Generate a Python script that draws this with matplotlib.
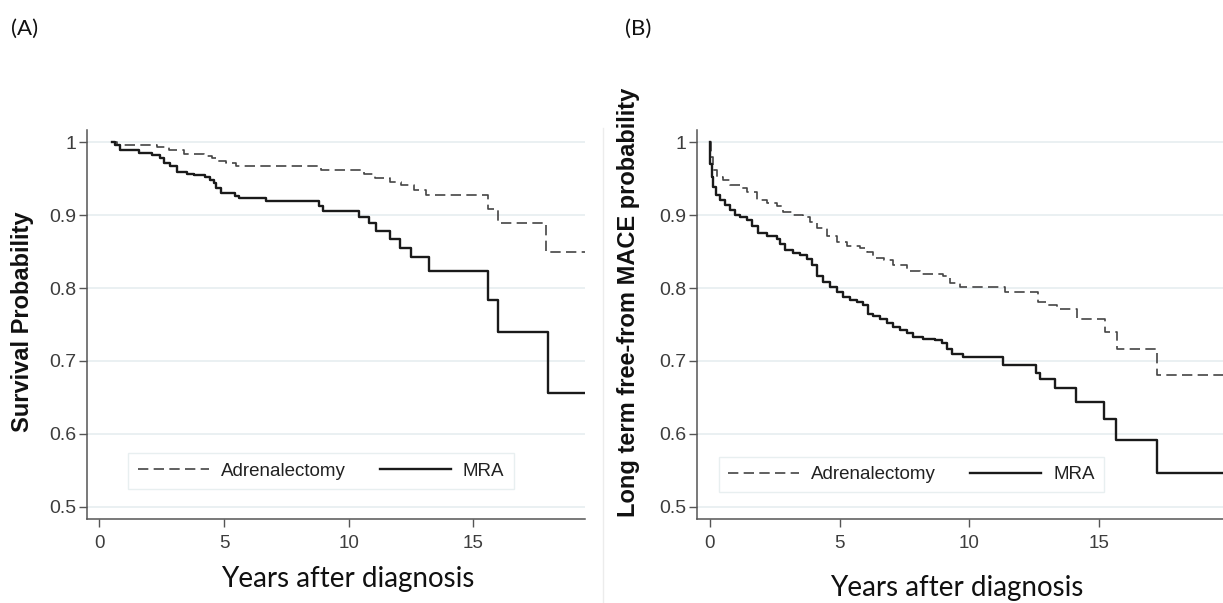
import matplotlib
matplotlib.use("Agg")
import matplotlib.pyplot as plt
from matplotlib.lines import Line2D

# ---------------- data ----------------
# Panel A: overall survival
a_adx_t = [0.5, 0.7, 2.3, 2.8, 3.4, 4.2, 4.5, 4.7, 5.1, 5.5, 8.9, 10.6, 11.05, 11.65,
           12.1, 12.6, 13.1, 15.6, 16.0, 17.9]
a_adx_s = [1.0, 0.997, 0.993, 0.989, 0.984, 0.981, 0.978, 0.975, 0.972, 0.968, 0.962,
           0.957, 0.951, 0.946, 0.941, 0.935, 0.928, 0.909, 0.890, 0.849]
a_mra_t = [0.5, 0.64, 0.84, 1.6, 2.1, 2.44, 2.58, 2.84, 3.1, 3.5, 3.8, 4.25, 4.45, 4.6,
           4.7, 4.9, 5.45, 5.6, 6.7, 8.8, 8.95, 10.4, 10.8, 11.1, 11.65, 12.05, 12.5,
           13.2, 15.6, 16.0, 18.0]
a_mra_s = [1.0, 0.996, 0.990, 0.986, 0.983, 0.979, 0.972, 0.967, 0.960, 0.957, 0.955,
           0.952, 0.948, 0.944, 0.937, 0.931, 0.926, 0.923, 0.919, 0.913, 0.906, 0.898,
           0.889, 0.878, 0.867, 0.855, 0.842, 0.823, 0.784, 0.740, 0.656]
a_end = 19.5

# Panel B: free from MACE
b_adx_t = [0, 0.04, 0.13, 0.26, 0.51, 0.77, 1.16, 1.42, 1.8, 2.19, 2.57, 2.83, 3.2, 3.6,
           3.86, 4.12, 4.5, 4.9, 5.28, 5.8, 6.05, 6.3, 6.7, 7.08, 7.6, 8.1, 9.0, 9.27,
           9.65, 11.4, 12.65, 13.0, 13.4, 14.15, 15.25, 15.7, 17.25]
b_adx_s = [1.0, 0.98, 0.962, 0.953, 0.948, 0.941, 0.937, 0.932, 0.921, 0.917, 0.913,
           0.905, 0.900, 0.898, 0.891, 0.882, 0.871, 0.863, 0.858, 0.855, 0.850, 0.841,
           0.839, 0.832, 0.823, 0.820, 0.816, 0.807, 0.801, 0.795, 0.781, 0.777, 0.771,
           0.757, 0.740, 0.717, 0.681]
b_mra_t = [0, 0.02, 0.06, 0.13, 0.23, 0.39, 0.58, 0.77, 0.97, 1.16, 1.42, 1.61, 1.87,
           2.19, 2.57, 2.7, 2.9, 3.2, 3.47, 3.73, 3.93, 4.12, 4.38, 4.63, 4.9, 5.15, 5.4,
           5.66, 5.92, 6.1, 6.3, 6.56, 6.82, 7.08, 7.34, 7.6, 7.85, 8.24, 8.69, 8.94,
           9.14, 9.33, 9.78, 11.3, 12.59, 12.75, 13.32, 14.13, 15.21, 15.68, 17.25]
b_mra_s = [1.0, 0.971, 0.953, 0.939, 0.928, 0.921, 0.914, 0.907, 0.901, 0.897, 0.893,
           0.885, 0.876, 0.872, 0.867, 0.861, 0.852, 0.848, 0.845, 0.840, 0.832, 0.816,
           0.809, 0.802, 0.794, 0.788, 0.784, 0.781, 0.777, 0.765, 0.761, 0.757, 0.752,
           0.747, 0.743, 0.738, 0.733, 0.730, 0.729, 0.724, 0.717, 0.709, 0.705, 0.695,
           0.684, 0.675, 0.663, 0.644, 0.620, 0.592, 0.546]
b_end = 20.0

x_ticks = [0, 5, 10, 15]
y_ticks = [0.5, 0.6, 0.7, 0.8, 0.9, 1.0]
y_ticklabels = ["0.5", "0.6", "0.7", "0.8", "0.9", "1"]
series_names = ["Adrenalectomy", "MRA"]
panel_labels = ["(A)", "(B)"]
y_labels = ["Survival Probability", "Long term free-from MACE probability"]
x_label = "Years after diagnosis"

# ---------------- figure ----------------
W, H = 1223, 603
fig = plt.figure(figsize=(W / 100, H / 100), dpi=100)
fig.patch.set_facecolor("white")

SANS = ["Liberation Sans", "DejaVu Sans"]
HUM = ["Lato", "Open Sans", "DejaVu Sans"]
tick_col = "#3d3d3d"
grid_col = "#e6eef0"
spine_col = "#555555"

def px_rect(l, r, t, b):
    return [l / W, 1 - b / H, (r - l) / W, (b - t) / H]

ax_a = fig.add_axes(px_rect(87, 585, 130, 519))
ax_b = fig.add_axes(px_rect(697, 1223, 130, 519))

def style(ax, xlim):
    ax.set_xlim(*xlim)
    ax.set_ylim(0.483, 1.017)
    ax.set_xticks(x_ticks)
    ax.set_xticklabels([str(v) for v in x_ticks], fontfamily=SANS, fontsize=13.5, color=tick_col)
    ax.set_yticks(y_ticks)
    ax.set_yticklabels(y_ticklabels, fontfamily=SANS, fontsize=14, color=tick_col)
    ax.grid(axis="y", color=grid_col, lw=1.2)
    ax.set_axisbelow(True)
    for s in ["top", "right"]:
        ax.spines[s].set_visible(False)
    for s in ["left", "bottom"]:
        ax.spines[s].set_color(spine_col)
        ax.spines[s].set_linewidth(1.1)
    ax.tick_params(axis="both", direction="out", length=5.5, width=1.0, color=spine_col, pad=2)
    ax.tick_params(axis="x", pad=6)

def km(ax, t, s, end, **kw):
    ax.step(list(t) + [end], list(s) + [s[-1]], where="post", **kw)

dash_kw = dict(color="#444444", lw=1.2, dashes=(6.2, 3.2))
solid_kw = dict(color="#1a1a1a", lw=1.7)

style(ax_a, (-0.49, 19.47))
km(ax_a, a_adx_t, a_adx_s, a_end, **dash_kw)
km(ax_a, a_mra_t, a_mra_s, a_end, **solid_kw)

style(ax_b, (-0.50, 19.8))
km(ax_b, b_adx_t, b_adx_s, b_end, **dash_kw)
km(ax_b, b_mra_t, b_mra_s, b_end, **solid_kw)

handles = [Line2D([], [], **dash_kw), Line2D([], [], **solid_kw)]
for ax, (l, r, t, b) in [(ax_a, (129, 513, 453, 489)), (ax_b, (712, 1111, 457, 492))]:
    leg = ax.legend(handles, series_names, ncol=2, loc="center",
                    bbox_to_anchor=((l + r) / 2 / W, 1 - (t + b) / 2 / H),
                    bbox_transform=fig.transFigure, frameon=True, fancybox=False,
                    prop={"family": SANS, "size": 13.5}, handlelength=3.8,
                    handletextpad=0.65, columnspacing=1.8, borderpad=0.5,
                    labelcolor="#222222")
    leg.get_frame().set_edgecolor("#e3ebed")
    leg.get_frame().set_linewidth(1.0)

# axis titles
fig.text(23 / W, 1 - 322 / H, y_labels[0], rotation=90, ha="center", va="center",
         fontfamily=SANS, fontweight="bold", fontsize=17, color="#111111")
fig.text(629 / W, 1 - 302 / H, y_labels[1], rotation=90, ha="center", va="center",
         fontfamily=SANS, fontweight="bold", fontsize=17, color="#111111")
fig.text(348 / W, 1 - 579 / H, x_label, ha="center", va="center",
         fontfamily=HUM, fontsize=20, color="#111111")
fig.text(957 / W, 1 - 588 / H, x_label, ha="center", va="center",
         fontfamily=HUM, fontsize=20, color="#111111")
fig.text(25 / W, 1 - 29 / H, panel_labels[0], ha="center", va="center",
         fontfamily=HUM, fontsize=16, color="#111111")
fig.text(638 / W, 1 - 29 / H, panel_labels[1], ha="center", va="center",
         fontfamily=HUM, fontsize=16, color="#111111")

# faint separator between panels
fig.add_artist(Line2D([603 / W, 603 / W], [0, 1 - 128 / H], transform=fig.transFigure,
                      color="#ececec", lw=1.0))

fig.savefig("out.png", dpi=100, facecolor="white")
